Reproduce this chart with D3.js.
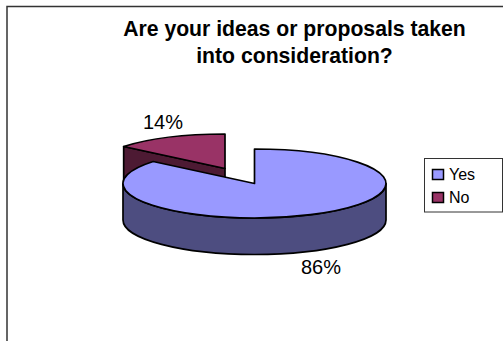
<!DOCTYPE html>
<html>
<head>
<meta charset="utf-8">
<script src="https://cdn.jsdelivr.net/npm/d3@7/dist/d3.min.js"></script>
<style>
  html, body { margin: 0; padding: 0; background: #fff; }
  svg { display: block; font-family: "Liberation Sans", Arial, sans-serif; }
</style>
</head>
<body>
<svg id="chart" width="503" height="341"></svg>
<script>
const categories = ["Yes", "No"];
const shares = [86, 14];
const titleLines = ["Are your ideas or proposals taken", "into consideration?"];
const topColors = ["#9999ff", "#993366"];
const wallColors = ["#4d4d80", "#4d1a33"];

const svg = d3.select("#chart");

// Ellipse used for the tilted pie, and the height of its rim
const rx = 131.5, ry = 34.5, depth = 36.5;
const center = { x: 254.5, y: 183.5 };
const explode = [{ dx: 0, dy: 0 }, { dx: -29.5, dy: -15 }];

const arcs = d3.pie().sort(null).value(d => d)(shares);

const point = (o, angle, drop = 0) => [
  o.x + rx * Math.sin(angle),
  o.y + ry * -Math.cos(angle) + drop
];

// Top face of a slice
function facePath(o, a0, a1) {
  const s = point(o, a0), e = point(o, a1);
  const large = a1 - a0 > Math.PI ? 1 : 0;
  return `M${o.x},${o.y}L${s}A${rx},${ry} 0 ${large} 1 ${e}Z`;
}

// Outer rim between two angles on the front half of the ellipse
function rimPath(o, a0, a1) {
  const s = point(o, a0), e = point(o, a1);
  const sb = point(o, a0, depth), eb = point(o, a1, depth);
  return `M${s}A${rx},${ry} 0 0 1 ${e}L${eb}A${rx},${ry} 0 0 0 ${sb}Z`;
}

// Flat cut face running from the hub out to the given angle
function cutPath(o, a) {
  const e = point(o, a), eb = point(o, a, depth);
  return `M${o.x},${o.y}L${e}L${eb}L${o.x},${o.y + depth}Z`;
}

// Chart frame: top and left edges only
svg.append("path")
  .attr("d", "M7,341V6.5H503")
  .attr("fill", "none")
  .attr("stroke", "#333")
  .attr("stroke-width", 1.5);

const mark = (d, fill) => svg.append("path")
  .attr("d", d)
  .attr("fill", fill)
  .attr("stroke", "#000")
  .attr("stroke-width", 1.7)
  .attr("stroke-linejoin", "round");

// The small slice sits behind the large one
const small = arcs[1];
const smallHub = { x: center.x + explode[1].dx, y: center.y + explode[1].dy };
mark(cutPath(smallHub, small.startAngle), wallColors[1]);
mark(facePath(smallHub, small.startAngle, small.endAngle), topColors[1]);

const big = arcs[0];
const bigHub = { x: center.x + explode[0].dx, y: center.y + explode[0].dy };
mark(rimPath(bigHub, Math.PI / 2, Math.PI * 1.5), wallColors[0]);
mark(facePath(bigHub, big.startAngle, big.endAngle), topColors[0]);

// Title
svg.append("g").selectAll("text")
  .data(titleLines)
  .join("text")
  .attr("x", 294.5)
  .attr("y", (d, i) => 36 + i * 26.5)
  .attr("text-anchor", "middle")
  .attr("font-size", 21.2)
  .attr("font-weight", "bold")
  .attr("fill", "#000")
  .text(d => d);

// Percentage labels
const labelPos = [{ x: 321, y: 274 }, { x: 163, y: 129 }];
svg.append("g").selectAll("text")
  .data(shares)
  .join("text")
  .attr("x", (d, i) => labelPos[i].x)
  .attr("y", (d, i) => labelPos[i].y)
  .attr("text-anchor", "middle")
  .attr("font-size", 20)
  .attr("fill", "#000")
  .text(d => d + "%");

// Legend
svg.append("rect")
  .attr("x", 424.5).attr("y", 158.5)
  .attr("width", 78).attr("height", 53.5)
  .attr("fill", "#fff")
  .attr("stroke", "#333")
  .attr("stroke-width", 1);

const legendY = d3.scalePoint().domain(categories).range([174.5, 197.5]);
const legend = svg.append("g").selectAll("g")
  .data(categories)
  .join("g")
  .attr("transform", d => `translate(432.5,${legendY(d)})`);
legend.append("rect")
  .attr("y", -5).attr("width", 11).attr("height", 10)
  .attr("fill", (d, i) => topColors[i])
  .attr("stroke", "#000")
  .attr("stroke-width", 1.5);
legend.append("text")
  .attr("x", 16.5).attr("y", 5.5)
  .attr("font-size", 16)
  .attr("fill", "#000")
  .text(d => d);
</script>
</body>
</html>
